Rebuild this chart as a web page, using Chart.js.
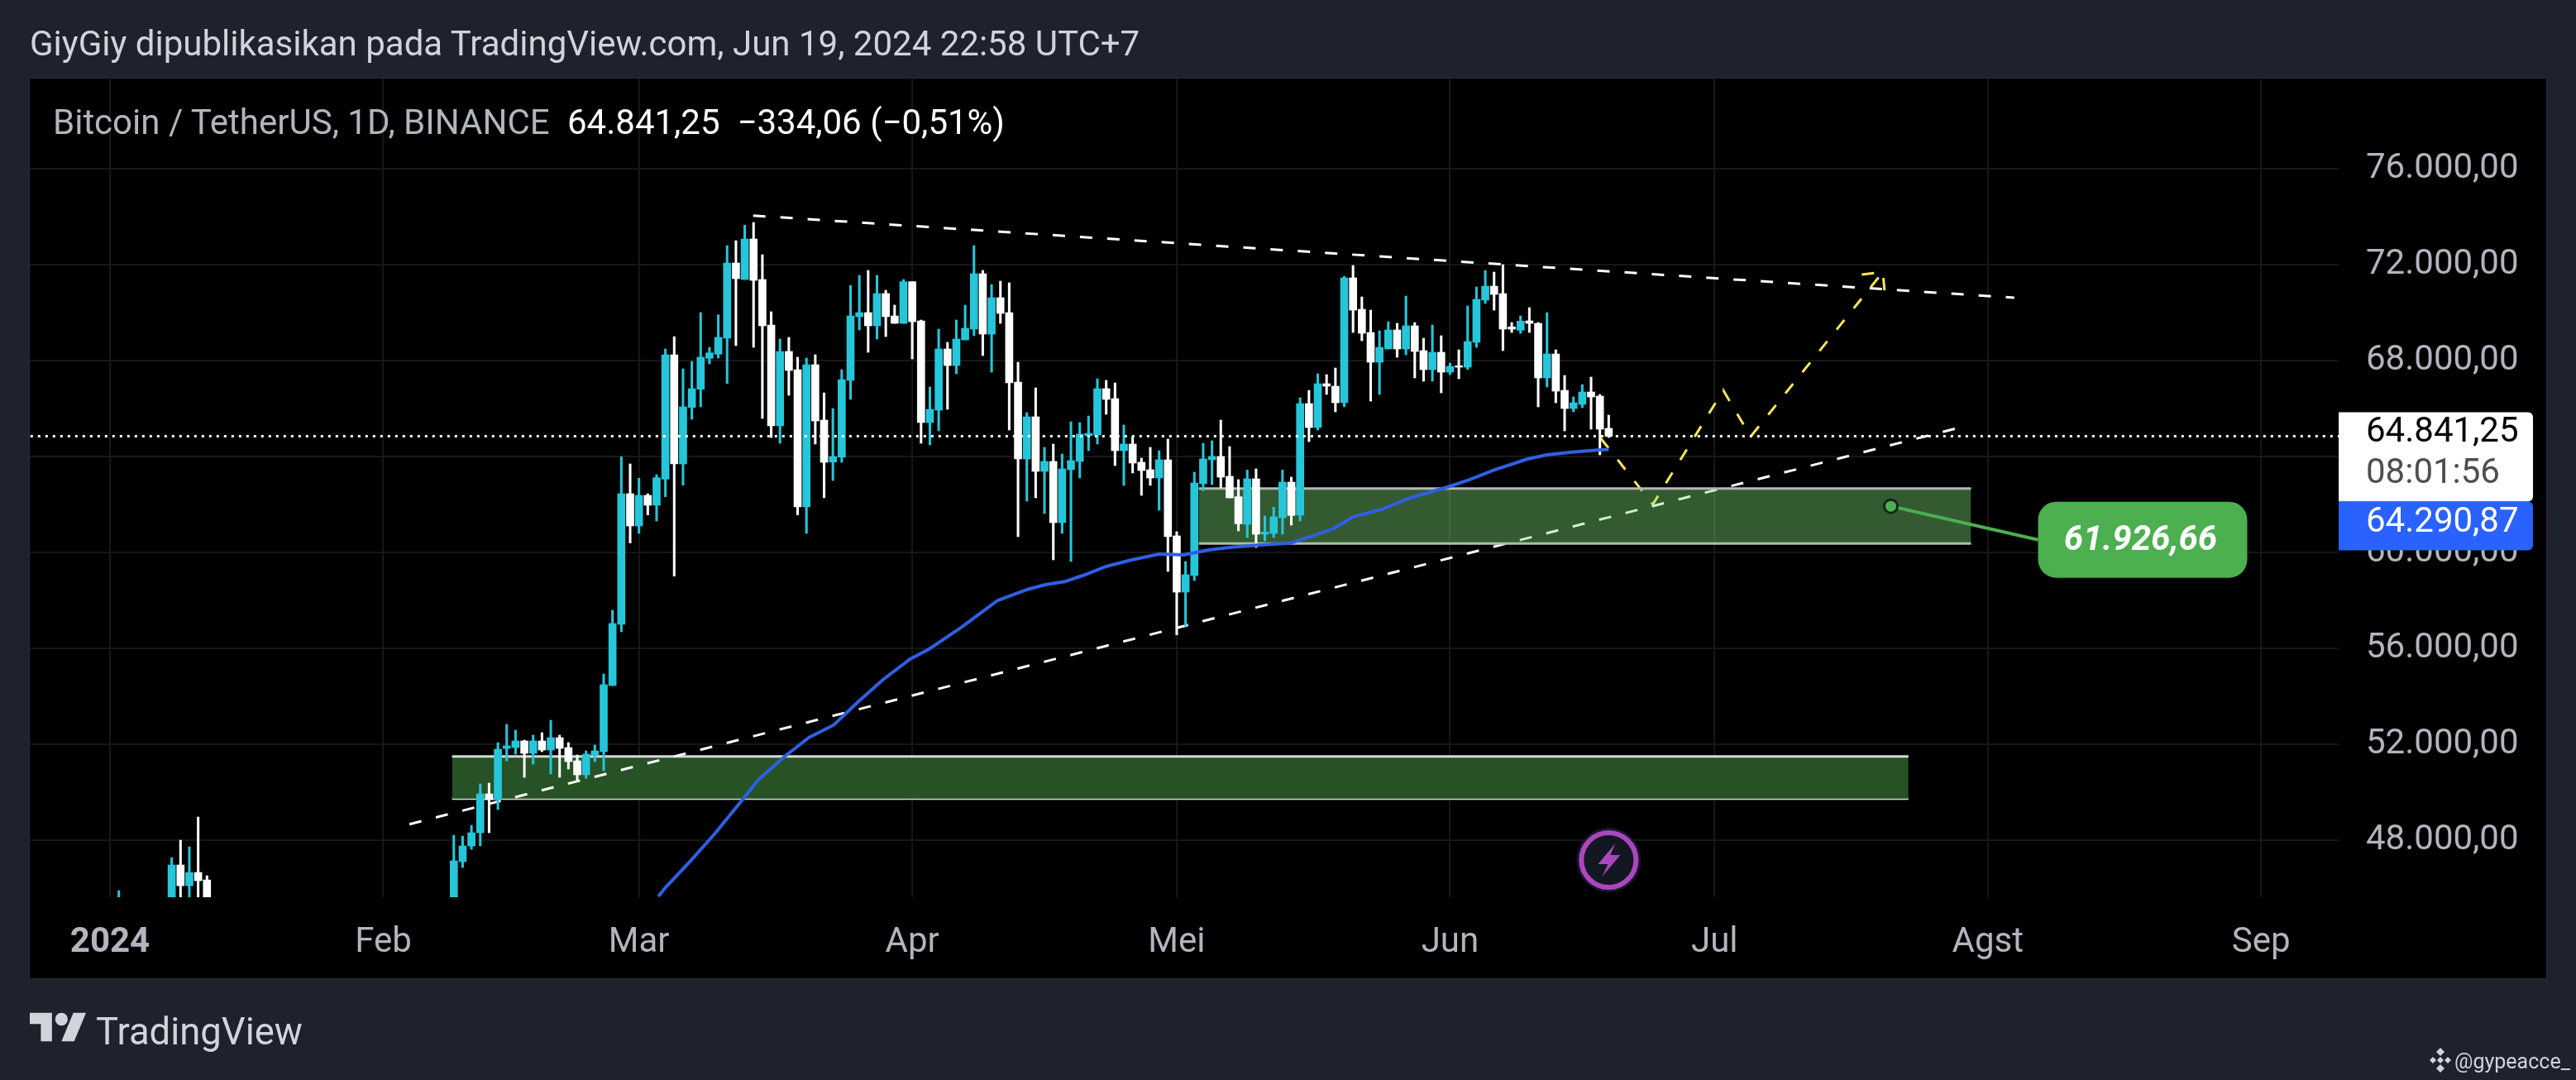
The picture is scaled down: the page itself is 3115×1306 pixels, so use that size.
<!DOCTYPE html>
<html>
<head>
<meta charset="utf-8">
<title>BTCUSDT 1D</title>
<script src="https://cdn.jsdelivr.net/npm/chart.js@4/dist/chart.umd.min.js"></script>
<style>
  html, body { margin:0; padding:0; width:3115px; height:1306px; overflow:hidden; background:#1e222d; font-family:Roboto, sans-serif; }
  #panel { position:absolute; left:35px; top:94px; width:3043px; height:1088px; background:#000; border:1px solid #2a2e39; }
  canvas { position:absolute; left:0; top:0; }
  .txt { position:absolute; white-space:pre; line-height:1; }
  #title { left:36px; top:32px; font-size:42px; color:#d1d4dc; }
  #legendA { left:64px; top:127px; font-size:42px; color:#b2b5be; }
  #legendB { left:686px; top:127px; font-size:42px; color:#fff; }
  #brand { left:116px; top:1225px; font-size:45.4px; color:#d1d4dc; }
  #author { left:2968px; top:1271px; font-size:25px; color:#d1d4dc; }
  #logo { position:absolute; left:36px; top:1217px; }
  #bnb { position:absolute; left:2937px; top:1267px; }
</style>
</head>
<body>
<div id="panel"></div>
<canvas id="chart" width="3115" height="1306"></canvas>
<div class="txt" id="title">GiyGiy dipublikasikan pada TradingView.com, Jun 19, 2024 22:58 UTC+7</div>
<div class="txt" id="legendA">Bitcoin / TetherUS, 1D, BINANCE</div>
<div class="txt" id="legendB">64.841,25  −334,06 (−0,51%)</div>
<svg id="logo" width="69" height="54" viewBox="0 0 36 28"><path fill="#d1d4dc" d="M14 22H7V11H0V4h14v18zM28 22h-8l7.5-18h8L28 22z"/><circle fill="#d1d4dc" cx="20" cy="8" r="4"/></svg>
<div class="txt" id="brand">TradingView</div>
<svg id="bnb" width="28" height="30" viewBox="0 0 28 30"><g fill="#d1d4dc"><path d="M14 0l5 5-5 5-5-5z"/><path d="M14 20l5 5-5 5-5-5z"/><path d="M14 11l4 4-4 4-4-4z"/><path d="M5 11l4 4-4 4-4-4z"/><path d="M23 11l4 4-4 4-4-4z"/></g></svg>
<div class="txt" id="author">@gypeacce_</div>

<script>
// days counted from 1 Jan 2024; only candles that reach into the visible range
const candleDays = [1,7,8,9,10,11,
  39,40,41,42,43,44,45,46,47,48,49,50,51,52,53,54,55,56,57,58,59,
  60,61,62,63,64,65,66,67,68,69,70,71,72,73,74,75,76,77,78,79,80,81,82,83,84,85,86,87,88,89,90,
  91,92,93,94,95,96,97,98,99,100,101,102,103,104,105,106,107,108,109,110,111,112,113,114,115,116,117,118,119,120,
  121,122,123,124,125,126,127,128,129,130,131,132,133,134,135,136,137,138,139,140,141,142,143,144,145,146,147,148,149,150,151,
  152,153,154,155,156,157,158,159,160,161,162,163,164,165,166,167,168,169,170];
const opens = [44200,44160,46966,46103,46655,46345,
  45290,47103,47759,48310,49931,49690,51828,51862,52139,51621,52139,51759,52276,51862,51311,50725,51552,51690,54449,57000,62449,
  61104,62380,61966,63058,68242,63690,66046,66805,68092,68265,68931,72069,71380,73069,71380,69483,65276,68380,67621,61897,67828,65518,63770,63966,67173,69828,70000,69449,70793,69862,69552,
  71288,69655,65414,65931,68483,67793,68862,69311,71621,69104,70621,70000,67104,63897,65655,63380,63793,61242,63449,63793,64862,64897,66828,66414,64242,64518,63759,63449,63104,63863,
  60690,58345,59035,62862,63863,64000,63173,62322,61172,63069,60759,60793,61448,62931,61552,66207,65207,67034,66931,66241,71448,70138,69172,67931,68483,69276,68483,69448,68414,67620,68345,
  67517,67781,67724,68758,70517,71103,70793,69402,69264,69655,69551,67276,68276,66758,66000,66172,66689,66517,65172];
const highs = [45897,47276,48000,47724,48966,46517,
  48207,48172,48620,50345,50379,52069,52828,52587,52173,52380,52483,52999,52380,52070,51552,51725,51966,54931,57587,63989,63690,
  63092,62449,63242,68483,69000,67655,67966,70000,68552,69908,72793,73000,73644,73759,72414,70035,68897,68966,68138,68104,68242,66655,65999,67621,71138,71552,71759,71552,70931,70311,71380,
  71288,69690,66897,69311,68759,69690,70311,72793,71759,71173,71311,71242,67931,65828,66862,64380,64518,64104,65449,65414,65690,67241,67173,67069,65311,64828,63932,64380,64242,64725,
  60863,59621,63345,64552,64656,65518,64414,63035,63437,63483,61517,61885,63437,63138,66448,66758,67448,67414,67689,71517,71965,70655,70103,69241,69620,69552,70689,69586,68931,69483,69034,
  67896,68448,70276,71069,71758,71689,71999,69586,69862,70207,69586,69999,68448,67379,66483,66999,67310,66586,65724];
const lows = [44150,43200,44300,44400,45600,41500,
  45000,46862,47620,47759,48310,49276,51311,51587,50621,51173,51690,50759,50621,50966,50483,50587,51276,50897,54449,56690,60391,
  60794,61564,61311,62323,59012,62805,65552,66070,67862,68104,67046,68621,71380,68552,65587,64793,64552,66552,61564,60794,64518,62276,62999,63759,66380,69276,68345,68897,69000,69552,69552,
  68069,64552,64483,65070,65966,67448,68862,69035,68207,67517,69552,65104,60656,62138,62276,61621,59690,60794,59621,63104,64242,64518,65759,63621,62794,63311,62380,62794,61759,59207,
  56562,56930,58828,62575,62828,62690,62276,60897,60621,60207,60483,60621,60759,61138,61310,64620,65103,66586,65862,66069,69172,68827,66310,66586,68483,68138,68241,67276,67138,67138,66655,
  67414,67241,67632,68551,70379,70103,68414,69172,69138,69172,66069,66896,66241,65069,65862,66034,65138,64069,64793];
const closes = [44950,46966,46103,46655,46310,42800,
  47138,47759,48310,49931,49690,51793,51932,52139,51621,52139,51759,52276,51828,51276,50725,51587,51725,54483,57035,62449,61104,
  62380,61966,63115,68242,63690,66070,66828,68138,68322,68966,72069,71414,73069,71345,69449,65276,68380,67587,61897,67828,65483,63759,64000,67207,69862,70000,69449,70793,69828,69552,71288,
  69621,65414,65966,68483,67793,68897,69345,71621,69104,70621,69966,67069,63897,65655,63380,63793,61242,63483,63828,64931,64966,66828,66380,64242,64518,63725,63414,63104,63863,60656,
  58345,59070,62897,63897,64000,63138,62276,61195,63069,60759,60851,61483,62931,61540,66207,65207,67034,66931,66241,71448,70103,69138,67931,68552,69276,68483,69448,68379,67620,68345,67517,
  67758,67724,68793,70551,71103,70758,69310,69310,69643,69551,67276,68276,66724,66000,66241,66689,66482,65138,64841];

const maDays = [62.2,63,65.8,68.6,71.9,73.5,76.5,79.3,82.1,84.9,87.7,90.8,92.9,96.6,100.7,104.1,106,108.3,110.6,113,115.8,119,121.8,124.6,127,130.1,133.9,136.3,138.8,141,144.2,147.6,151.4,154.2,157,160.8,163,165.8,169,170];
const maValues = [45655,46024,47114,48265,49759,50507,51483,52286,52804,53782,54700,55562,55966,56886,58000,58459,58645,58783,59069,59414,59680,59931,59897,60103,60207,60300,60390,60679,60990,61483,61793,62286,62690,63034,63438,63897,64069,64183,64276,64290.87];

const lastPrice = 64841.25;
const maPrice = 64290.87;
const countdown = '08:01:56';
const resistDays = [72.95,216];
const resistPrices = [74045,70621];
const supportDays = [33.96,210.9];
const supportPrices = [48666,65310];
const pathDays = [169.1,175,183,186.1,201.1];
const pathPrices = [64759,62000,66759,64828,71690];
const arrowDays = [198.7,201.1,201.3];
const arrowPrices = [71586,71690,70862];
const upperZoneDays = [123.5,211.1];
const upperZonePrices = [62666,60372];
const lowerZoneDays = [38.8,204];
const lowerZonePrices = [51493,49734];
const calloutDays = [202,218.7];
const calloutPrices = [61926.66,60528];

const priceTicks = [48000,52000,56000,60000,64000,68000,72000,76000];
const monthDays = [0,31,60,91,121,152,182,213,244];
const monthLabels = ['2024','Feb','Mar','Apr','Mei','Jun','Jul','Agst','Sep'];

const UP = '#26c6da', DOWN = '#ffffff';
const candleColors = candleDays.map((d,i) => closes[i] >= opens[i] ? UP : DOWN);
const fmtPrice = v => { const [a,b] = Number(v).toFixed(2).split('.'); return a.replace(/\B(?=(\d{3})+$)/g,'.') + ',' + b; };
const pts = (xs,ys) => xs.map((x,i) => ({x, y:ys[i]}));
const seg = (xs,y) => xs.map(x => ({x, y}));

const lineDs = (data,color,width,order,extra) => Object.assign({ type:'line', data, borderColor:color, borderWidth:width, pointRadius:0, tension:0, fill:false, order, clip:0 }, extra||{});
const dash = [15,18];

const overlayPlugin = {
  id:'overlay',
  afterDraw(chart){
    const ctx = chart.ctx, x = chart.scales.x, y = chart.scales.y, a = chart.chartArea;
    ctx.save();
    // callout box
    const bx = x.getPixelForValue(calloutDays[1]), by = y.getPixelForValue(calloutPrices[1]);
    ctx.fillStyle = '#4caf50';
    ctx.beginPath(); ctx.roundRect(bx, by-46, 253, 92, 22); ctx.fill();
    ctx.fillStyle = '#fff'; ctx.font = 'italic bold 42px Roboto'; ctx.textAlign = 'center'; ctx.textBaseline = 'middle';
    ctx.fillText(fmtPrice(calloutPrices[0]), bx+124, by+2);
    // last price + countdown + ma tags
    const tagTop = y.getPixelForValue(lastPrice) - 29, tagW = 235;
    ctx.fillStyle = '#fff';
    ctx.beginPath(); ctx.roundRect(a.right, tagTop, tagW, 108, [0,6,6,0]); ctx.fill();
    ctx.fillStyle = '#2962ff';
    ctx.beginPath(); ctx.roundRect(a.right, tagTop+108, tagW, 59, [0,6,6,0]); ctx.fill();
    ctx.font = '42px Roboto'; ctx.textAlign = 'left';
    ctx.fillStyle = '#000'; ctx.fillText(fmtPrice(lastPrice), a.right+33, tagTop+25);
    ctx.fillStyle = '#4e4e4e'; ctx.fillText(countdown, a.right+33, tagTop+75);
    ctx.fillStyle = '#fff'; ctx.fillText(fmtPrice(maPrice), a.right+33, tagTop+134);
    // lightning marker under the last candle
    const mx = x.getPixelForValue(candleDays[candleDays.length-1]), my = a.bottom - 45;
    ctx.beginPath(); ctx.arc(mx, my, 39, 0, Math.PI*2); ctx.fillStyle = '#1c1430'; ctx.fill();
    ctx.beginPath(); ctx.arc(mx, my, 33, 0, Math.PI*2); ctx.fillStyle = '#131722'; ctx.fill();
    ctx.lineWidth = 6; ctx.strokeStyle = '#ab47bc'; ctx.stroke();
    ctx.fillStyle = '#ab47bc';
    ctx.beginPath();
    ctx.moveTo(mx+8,my-20); ctx.lineTo(mx-13,my+5); ctx.lineTo(mx-1,my+5); ctx.lineTo(mx-8,my+20);
    ctx.lineTo(mx+14,my-6); ctx.lineTo(mx+2,my-6); ctx.closePath(); ctx.fill();
    ctx.restore();
  }
};

new Chart(document.getElementById('chart').getContext('2d'), {
  type:'bar',
  data:{ datasets:[
    lineDs(seg([-20,260],lastPrice),'#ffffff',3,0,{borderDash:[3,6]}),
    lineDs(pts(maDays,maValues),'#2f5fe3',4,1),
    lineDs(pts(calloutDays,calloutPrices),'#4caf50',4,1,{pointRadius:[8,0],pointBackgroundColor:'#4caf50',pointBorderColor:'#14261a',pointBorderWidth:3}),
    { type:'bar', data:candleDays.map((d,i)=>({x:d,y:[Math.min(opens[i],closes[i]),Math.max(opens[i],closes[i])]})), backgroundColor:candleColors, barThickness:9, grouped:false, order:2, clip:0 },
    { type:'bar', data:candleDays.map((d,i)=>({x:d,y:[lows[i],highs[i]]})), backgroundColor:candleColors, barThickness:2.4, grouped:false, order:3, clip:0 },
    lineDs(seg(upperZoneDays,upperZonePrices[0]),'#b4b8b2',3,4,{fill:'+1',backgroundColor:'rgba(130,225,125,0.4)'}),
    lineDs(seg(upperZoneDays,upperZonePrices[1]),'#b4b8b2',3,4),
    lineDs(pts(resistDays,resistPrices),'#ffffff',3,5,{borderDash:dash}),
    lineDs(pts(supportDays,supportPrices),'#ffffff',3,5,{borderDash:dash}),
    lineDs(pts(pathDays,pathPrices),'#fbe74f',3,5,{borderDash:dash}),
    lineDs(pts(arrowDays,arrowPrices),'#fbe74f',3,5,{borderDash:dash}),
    lineDs(seg(lowerZoneDays,lowerZonePrices[0]),'#d8d8d8',3,6,{fill:'+1',backgroundColor:'#265226'}),
    lineDs(seg(lowerZoneDays,lowerZonePrices[1]),'#d8d8d8',3,6)
  ]},
  options:{
    responsive:false, animation:false, devicePixelRatio:1, events:[],
    layout:{ padding:{ left:36, top:95, right:36, bottom:123 } },
    plugins:{ legend:{display:false}, title:{display:false}, tooltip:{enabled:false} },
    scales:{
      x:{ type:'linear', offset:false, min:-9.1, max:252.8,
        afterBuildTicks:s => { s.ticks = monthDays.map(value => ({value})); },
        afterFit:s => { s.height = 98; },
        grid:{ color:'#171717', lineWidth:2, drawTicks:false, offset:false },
        border:{ display:false },
        ticks:{ autoSkip:false, maxRotation:0, padding:30, color:'#b2b5be',
          font:c => ({ family:'Roboto', size:42, weight:c.index===0?'bold':'normal' }),
          callback:(v,i) => monthLabels[i] } },
      y:{ type:'linear', position:'right', min:45621, max:79759,
        afterBuildTicks:s => { s.ticks = priceTicks.map(value => ({value})); },
        afterFit:s => { s.width = 251; },
        grid:{ color:'#171717', lineWidth:2, drawTicks:false },
        border:{ display:false },
        ticks:{ padding:33, color:'#b2b5be', font:{ family:'Roboto', size:42 }, callback:v => fmtPrice(v) } }
    }
  },
  plugins:[overlayPlugin]
});
</script>
</body>
</html>
